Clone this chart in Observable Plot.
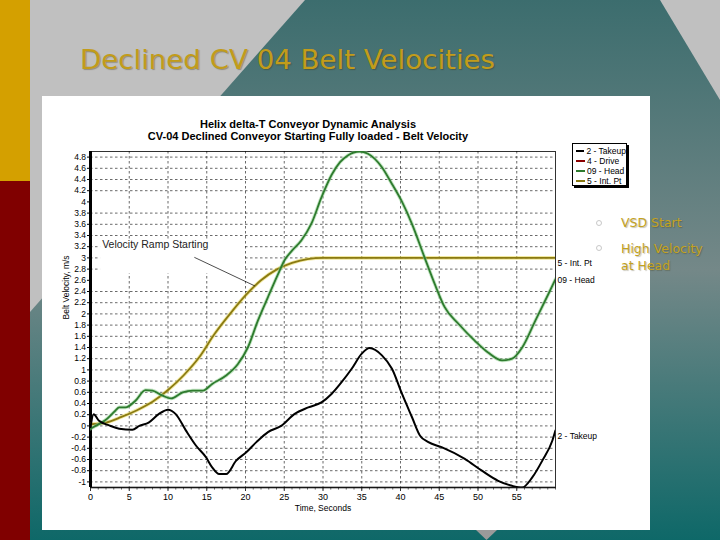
<!DOCTYPE html>
<html>
<head>
<meta charset="utf-8">
<script src="https://cdn.jsdelivr.net/npm/d3@7"></script>
<script src="https://cdn.jsdelivr.net/npm/@observablehq/plot@0.6"></script>
<style>
  body { margin: 0; }
  #slide { position: relative; width: 720px; height: 540px; overflow: hidden; background: #c0c0c0; }
  #bg { position: absolute; left: 0; top: 0; }
  #title { position: absolute; left: 80px; top: 44px; font-family: "DejaVu Sans", sans-serif; font-size: 27px;
           color: #c29c1a; white-space: nowrap; transform-origin: 0 0; text-shadow: 1px 1px 1px rgba(60,50,0,0.35); }
  #chart { position: absolute; left: 42px; top: 96px; width: 608px; height: 434px; background: #fff; }
  #legend { position: absolute; left: 572px; top: 143px; width: 55px; height: 43px; background: #fff;
            border: 1px solid #000; box-shadow: 2px 2px 0 #000; font-family: "Liberation Sans", Arial, sans-serif;
            font-size: 8.5px; line-height: 10px; padding-top: 2px; box-sizing: border-box; }
  #legend .row { display: flex; align-items: center; height: 10px; padding-left: 3px; white-space: nowrap; }
  #legend .sw { width: 9px; height: 2px; margin-right: 2px; }
  .bullet { position: absolute; font-family: "DejaVu Sans", sans-serif; font-size: 12.5px; line-height: 17px;
            color: #c4a21e; text-shadow: 1px 1px 1px rgba(60,50,0,0.3); white-space: nowrap; }
  .dot { position: absolute; width: 4px; height: 4px; border: 1px solid #c8c8c8; border-radius: 50%; }
</style>
</head>
<body>
<div id="slide">
  <svg id="bg" width="720" height="540">
    <defs>
      <linearGradient id="tg" x1="0" y1="0" x2="0" y2="1">
        <stop offset="0" stop-color="#3c6d6e"/>
        <stop offset="0.5" stop-color="#748888"/>
        <stop offset="1" stop-color="#0e6868"/>
      </linearGradient>
    </defs>
    <polygon points="305,0 660,0 720,100 720,540 30,540 30,312" fill="url(#tg)"/>
    <rect x="0" y="0" width="30" height="181" fill="#d4a000"/>
    <rect x="0" y="181" width="30" height="359" fill="#800000"/>
    <polygon points="476,530 497,530 486.5,540" fill="#9a9a9a"/>
  </svg>
  <div id="title">Declined CV 04 Belt Velocities</div>
  <div id="chart"></div>
  <div id="legend"></div>
  <div class="dot" style="left:596px;top:220px"></div>
  <div class="dot" style="left:596px;top:245px"></div>
  <div class="bullet" style="left:621px;top:214px">VSD Start</div>
  <div class="bullet" style="left:621px;top:240px">High Velocity<br>at Head</div>
</div>
<script>
// ---- data ----
const takeupTime = [0, 0.4, 1.1, 2.4, 3.7, 5.4, 6.3, 7.5, 8.8, 10.0, 11.0, 12.3, 13.6, 14.9, 15.7, 16.6, 17.5, 18.8, 20.1, 21.4, 22.9, 24.6, 26.3, 28.1, 29.8, 31.1, 32.4, 33.7, 35.0, 36.0, 37.6, 38.9, 40.2, 41.5, 42.5, 43.6, 45.3, 48.3, 50.5, 52.6, 54.4, 55.7, 57.0, 58.3, 59.6, 60.0];
const takeupVel  = [-0.02, 0.21, 0.09, 0.01, -0.05, -0.07, 0.0, 0.06, 0.21, 0.29, 0.21, -0.08, -0.35, -0.56, -0.74, -0.86, -0.86, -0.62, -0.47, -0.29, -0.11, 0.0, 0.21, 0.33, 0.42, 0.57, 0.78, 1.02, 1.29, 1.39, 1.26, 1.02, 0.57, 0.15, -0.17, -0.29, -0.38, -0.59, -0.8, -0.98, -1.07, -1.1, -0.92, -0.62, -0.26, -0.08];

const headTime = [0, 0.65, 1.9, 3.2, 3.7, 4.5, 5.8, 7.1, 8.0, 9.3, 10.4, 11.9, 13.2, 14.5, 15.7, 17.5, 19.0, 20.3, 21.6, 22.9, 24.2, 25.0, 26.0, 27.2, 28.5, 29.8, 31.1, 32.2, 33.2, 34.7, 35.8, 37.6, 38.9, 40.2, 41.5, 43.1, 44.4, 45.7, 47.5, 49.6, 51.3, 53.1, 54.4, 55.7, 57.4, 59.1, 60.0];
const headVel  = [-0.05, 0.0, 0.1, 0.27, 0.33, 0.33, 0.45, 0.64, 0.63, 0.54, 0.49, 0.6, 0.63, 0.63, 0.75, 0.9, 1.1, 1.4, 1.88, 2.3, 2.71, 2.95, 3.13, 3.31, 3.61, 4.08, 4.48, 4.71, 4.83, 4.9, 4.86, 4.62, 4.32, 4.0, 3.6, 3.01, 2.54, 2.12, 1.82, 1.52, 1.31, 1.17, 1.2, 1.4, 1.88, 2.36, 2.62];

const intPtTime = [0, 2, 4, 6, 8, 10, 12, 14, 16, 18, 20, 22, 24, 26, 28, 30, 60];
const intPtVel  = [0.03, 0.06, 0.16, 0.28, 0.43, 0.64, 0.9, 1.22, 1.64, 2.0, 2.33, 2.6, 2.79, 2.91, 2.98, 3.0, 3.0];

const seriesNames  = ["2 - Takeup", "4 - Drive", "09 - Head", "5 - Int. Pt"];
const seriesColors = ["#000000", "#8b0000", "#2e7b2e", "#8a7a12"];

const xTicks = [0, 5, 10, 15, 20, 25, 30, 35, 40, 45, 50, 55];
const yTicks = [-1, -0.8, -0.6, -0.4, -0.2, 0, 0.2, 0.4, 0.6, 0.8, 1, 1.2, 1.4, 1.6, 1.8, 2, 2.2, 2.4, 2.6, 2.8, 3, 3.2, 3.4, 3.6, 3.8, 4, 4.2, 4.4, 4.6, 4.8];
const yGrid  = [-1, -0.8, -0.6, -0.4, -0.2, 0, 0.2, 0.4, 0.6, 0.8, 1, 1.2, 1.4, 1.6, 1.8, 2, 2.2, 2.4, 2.8, 3, 3.2, 3.4, 3.6, 3.8, 4.2, 4.4, 4.6, 4.8];

const chartTitle1 = "Helix delta-T Conveyor Dynamic Analysis";
const chartTitle2 = "CV-04 Declined Conveyor Starting Fully loaded - Belt Velocity";
const xLabel = "Time, Seconds";
const yLabel = "Belt Velocity, m/s";

const endLabelText = ["5 - Int. Pt", "09 - Head", "2 - Takeup"];
const endLabelTime = [60, 60, 60];
const endLabelVel  = [2.91, 2.6, -0.19];

const noteText = ["Velocity Ramp Starting"];
const noteTime = [1.5];
const noteVel  = [3.23];
const noteLinkFrom = [13.4, 3.01];
const noteLinkTo   = [21.2, 2.5];
const noteBox = [1.3, 19.8, 2.72, 3.3];

// ---- build tables ----
const toRows = (ts, vs) => ts.map((t, i) => ({t, v: vs[i]}));
const takeup = toRows(takeupTime, takeupVel);
const head = toRows(headTime, headVel);
const intPt = toRows(intPtTime, intPtVel);
const endLabels = endLabelText.map((s, i) => ({s, t: endLabelTime[i], v: endLabelVel[i]}));
const notes = noteText.map((s, i) => ({s, t: noteTime[i], v: noteVel[i]}));
const fmt = d => String(Math.round(d * 10) / 10);

const chart = Plot.plot({
  width: 608,
  height: 434,
  marginLeft: 48,
  marginRight: 95,
  marginTop: 55,
  marginBottom: 43,
  style: {background: "#fff", fontFamily: "'Liberation Sans', Arial, sans-serif", fontSize: "8.5px", color: "#000", overflow: "visible"},
  x: {domain: [0, 60]},
  y: {domain: [-1.1, 4.9]},
  marks: [
    Plot.gridY(yGrid, {stroke: "#222", strokeOpacity: 0.85, strokeWidth: 0.8, strokeDasharray: "2.5,2.5"}),
    Plot.gridX(xTicks.slice(1), {stroke: "#222", strokeOpacity: 0.85, strokeWidth: 0.8, strokeDasharray: "2.5,2.5"}),
    Plot.rect([noteBox], {x1: d => d[0], x2: d => d[1], y1: d => d[2], y2: d => d[3], fill: "#fff"}),
    Plot.ruleY([-1.1], {stroke: "#777", strokeWidth: 2}),
    Plot.axisX(d3.range(0, 61), {tickSize: 2.5, tickFormat: () => "", label: null, stroke: "#555"}),
    Plot.axisX(xTicks, {tickSize: 4, tickPadding: 2, label: null, fontSize: 9, stroke: "#333"}),
    Plot.axisY(yTicks, {tickSize: 3, tickPadding: 1.5, tickFormat: fmt, label: null, fontSize: 8.5}),
    Plot.frame({stroke: "#000", strokeWidth: 0.8}),
    Plot.ruleX([0], {stroke: "#000", strokeWidth: 3}),
    Plot.line(intPt, {x: "t", y: "v", stroke: "#e6d650", strokeWidth: 3.6, strokeOpacity: 0.55, curve: "monotone-x", clip: true}),
    Plot.line(intPt, {x: "t", y: "v", stroke: seriesColors[3], strokeWidth: 1.8, curve: "monotone-x", clip: true}),
    Plot.line(head, {x: "t", y: "v", stroke: "#8fd08f", strokeWidth: 3.6, strokeOpacity: 0.55, curve: "monotone-x", clip: true}),
    Plot.line(head, {x: "t", y: "v", stroke: seriesColors[2], strokeWidth: 1.8, curve: "monotone-x", clip: true}),
    Plot.line(takeup, {x: "t", y: "v", stroke: seriesColors[0], strokeWidth: 2, curve: "monotone-x", clip: true}),
    Plot.link([0], {x1: () => noteLinkFrom[0], y1: () => noteLinkFrom[1], x2: () => noteLinkTo[0], y2: () => noteLinkTo[1], stroke: "#000", strokeWidth: 0.7}),
    Plot.text(notes, {x: "t", y: "v", text: "s", textAnchor: "start", fontSize: 10.5, fill: "#222"}),
    Plot.text(endLabels, {x: "t", y: "v", text: "s", textAnchor: "start", dx: 2, fontSize: 8.5}),
    Plot.text([chartTitle1], {text: d => d, frameAnchor: "top", dy: -31, dx: -15, fontWeight: "bold", fontSize: 11}),
    Plot.text([chartTitle2], {text: d => d, frameAnchor: "top", dy: -19, dx: -15, fontWeight: "bold", fontSize: 11}),
    Plot.text([xLabel], {text: d => d, frameAnchor: "bottom", dy: 23, fontSize: 8.5}),
    Plot.text([yLabel], {text: d => d, frameAnchor: "left", rotate: -90, dx: -24, fontSize: 8.5})
  ]
});
document.getElementById("chart").appendChild(chart);

// legend
const legend = document.getElementById("legend");
seriesNames.forEach((name, i) => {
  const row = document.createElement("div");
  row.className = "row";
  const sw = document.createElement("span");
  sw.className = "sw";
  sw.style.background = seriesColors[i];
  row.appendChild(sw);
  row.appendChild(document.createTextNode(name));
  legend.appendChild(row);
});

// fit slide title width
const title = document.getElementById("title");
const w = title.getBoundingClientRect().width;
title.style.transform = `scaleX(${415 / w})`;
</script>
</body>
</html>
